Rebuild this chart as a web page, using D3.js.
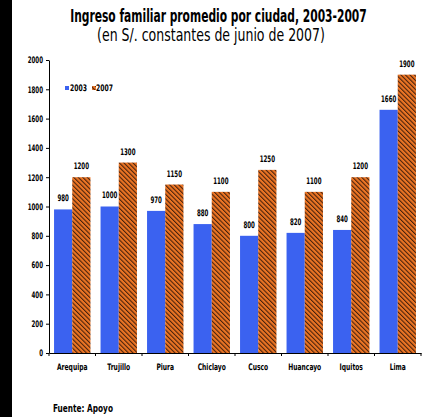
<!DOCTYPE html>
<html><head><meta charset="utf-8">
<script src="https://cdn.jsdelivr.net/npm/d3@7"></script>
<style>
html,body{margin:0;padding:0;background:#fff;}
svg{display:block;}
text{font-family:'DejaVu Sans Condensed','DejaVu Sans',sans-serif;fill:#000;}
</style></head>
<body>
<svg id="c" width="430" height="417"></svg>
<script>
const categories = ["Arequipa","Trujillo","Piura","Chiclayo","Cusco","Huancayo","Iquitos","Lima"];
const seriesNames = ["2003","2007"];
const values2003 = [980,1000,970,880,800,820,840,1660];
const values2007 = [1200,1300,1150,1100,1250,1100,1200,1900];
const yTicks = [0,200,400,600,800,1000,1200,1400,1600,1800,2000];
const titleLine1 = "Ingreso familiar promedio por ciudad, 2003-2007";
const titleLine2 = "(en S/. constantes  de junio de 2007)";
const sourceText = "Fuente: Apoyo";

const svg = d3.select("#c");
const defs = svg.append("defs");
const pat = defs.append("pattern").attr("id","hatch").attr("patternUnits","userSpaceOnUse")
  .attr("width",3.2).attr("height",3.2).attr("patternTransform","rotate(-45)");
pat.append("rect").attr("width",3.2).attr("height",3.2).attr("fill","#ec7524");
pat.append("rect").attr("x",0).attr("y",0).attr("width",1.05).attr("height",3.2).attr("fill","#44200c");

function squeeze(sel, sx){
  sel.each(function(){
    const t = d3.select(this);
    const x0 = +t.attr("x") || 0;
    t.attr("transform",`translate(${x0},0) scale(${sx},1) translate(${-x0},0)`);
  });
}
function fitWidth(sel, w){
  sel.each(function(){
    const nat = this.getComputedTextLength();
    squeeze(d3.select(this), w/nat);
  });
}

// black left strip
svg.append("rect").attr("x",0).attr("y",0).attr("width",12).attr("height",417).attr("fill","#000");

const x = d3.scaleBand().domain(categories).range([49,421]).paddingInner(0.217).paddingOuter(0.1085);
const xs = d3.scaleBand().domain(seriesNames).range([0,x.bandwidth()]);
const y = d3.scaleLinear().domain([0,2000]).range([353,60]);
const colors = {"2003":"#3b62f0","2007":"url(#hatch)"};

const data = categories.map((c,i)=>({c, vals:[{s:"2003",v:values2003[i]},{s:"2007",v:values2007[i]}]}));

const g = svg.append("g").selectAll("g").data(data).join("g")
  .attr("transform",d=>`translate(${x(d.c)},0)`);
g.selectAll("rect").data(d=>d.vals).join("rect")
  .attr("x",d=>xs(d.s)).attr("width",xs.bandwidth())
  .attr("y",d=>y(d.v)).attr("height",d=>y(0)-y(d.v))
  .attr("fill",d=>colors[d.s]);
const vl = g.selectAll("text").data(d=>d.vals).join("text")
  .attr("x",d=>xs(d.s)+xs.bandwidth()/2).attr("y",d=>y(d.v)-8)
  .attr("text-anchor","middle").attr("font-size",9).attr("font-weight","bold")
  .text(d=>d.v);
squeeze(vl, 0.68);

// y axis
const ya = svg.append("g").attr("transform","translate(49,0)")
  .call(d3.axisLeft(y).tickValues(yTicks).tickSize(3).tickSizeOuter(0).tickFormat(d3.format("d")));
ya.attr("font-family",null);
ya.select(".domain").attr("stroke","#000");
const yl = ya.selectAll("text").attr("font-size",9).attr("font-weight","bold").attr("x",-6);
squeeze(yl, 0.68);

// x axis with ticks at category boundaries
const xa = svg.append("g").attr("transform","translate(0,353)")
  .call(d3.axisBottom(x).tickSize(0).tickPadding(11));
xa.attr("font-family",null);
xa.select(".domain").attr("stroke","#000");
const xl = xa.selectAll("text").attr("font-size",9).attr("font-weight","bold");
squeeze(xl, 0.74);
const bounds = categories.map(c=>x(c)-x.step()*x.paddingInner()/2).concat([x(categories[categories.length-1])+x.bandwidth()+x.step()*x.paddingInner()/2]);
xa.selectAll("line.b").data(bounds).join("line").attr("class","b")
  .attr("x1",d=>d).attr("x2",d=>d).attr("y1",0).attr("y2",3).attr("stroke","#000");

// legend
const lg = svg.append("g").attr("transform","translate(65,88)");
lg.append("rect").attr("x",0).attr("y",-2).attr("width",4).attr("height",4).attr("fill",colors["2003"]);
const t1 = lg.append("text").attr("x",5).attr("y",3).attr("font-size",9).attr("font-weight","bold").text(seriesNames[0]);
lg.append("rect").attr("x",27).attr("y",-2).attr("width",4).attr("height",4).attr("fill",colors["2007"]);
const t2 = lg.append("text").attr("x",31).attr("y",3).attr("font-size",9).attr("font-weight","bold").text(seriesNames[1]);
fitWidth(t1, 17); fitWidth(t2, 17);

// titles
const ti1 = svg.append("text").attr("x",218.5).attr("y",22).attr("text-anchor","middle")
  .attr("font-size",17).attr("font-weight","bold").text(titleLine1);
fitWidth(ti1, 297);
const ti2 = svg.append("text").attr("x",211).attr("y",41).attr("text-anchor","middle")
  .attr("font-size",17).text(titleLine2);
fitWidth(ti2, 228);
const src = svg.append("text").attr("x",53).attr("y",412).attr("font-size",11).attr("font-weight","bold")
  .text(sourceText);
fitWidth(src, 60);
</script>
</body></html>
